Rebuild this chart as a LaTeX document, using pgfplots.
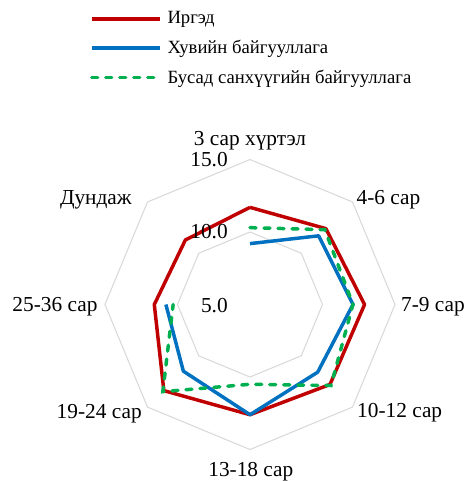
\documentclass[border=0pt]{standalone}
\usepackage{pgfplots}
\pgfplotsset{compat=1.18}
\usepackage{pgfplotstable}
\usepackage{fontspec}
\setmainfont{Liberation Serif}
\definecolor{cred}{RGB}{192,0,0}
\definecolor{cblue}{RGB}{0,112,192}
\definecolor{cgreen}{RGB}{0,176,80}
\definecolor{cgrid}{RGB}{217,217,217}

% i: 0=3 сар хүртэл, 1=4-6, 2=7-9, 3=10-12, 4=13-18, 5=19-24, 6=25-36, 7=Дундаж, 8=closing point
\pgfplotstableread{
i red blue green
0 11.7 9.2 10.3
1 12.4 11.7 12.3
2 12.9 12.1 12.1
3 12.8 11.6 12.9
4 12.6 12.6 10.5
5 13.4 11.5 13.5
6 11.6 10.8 10.3
7 11.3 nan nan
8 11.7 nan nan
}\datatable

\pgfplotstableread{
i ga gb
0 10 15
1 10 15
2 10 15
3 10 15
4 10 15
5 10 15
6 10 15
7 10 15
8 10 15
}\gridtable

\begin{document}
\begin{tikzpicture}
\begin{axis}[
  x=10.875pt, y=10.875pt,
  xmin=-17.24, xmax=14.83, ymin=-12.17, ymax=21.0,
  hide axis, clip=false,
  legend style={draw=none, fill=none, at={(axis cs:-11.05,20.35)}, anchor=north west,
    inner sep=0pt, row sep=7.8pt, font=\fontsize{14}{16}\selectfont,
    nodes={inner sep=1.5pt},
    /tikz/every odd column/.append style={column sep=3pt}},
  legend cell align=left,
  legend image code/.code={\draw[#1] (0pt,0pt) -- (51pt,0pt);},
]
\addplot[cgrid, line width=0.8pt, forget plot] table[
  x expr={(\thisrow{ga}-5)*cos(90-45*\thisrow{i})},
  y expr={(\thisrow{ga}-5)*sin(90-45*\thisrow{i})}] {\gridtable};
\addplot[cgrid, line width=0.8pt, forget plot] table[
  x expr={(\thisrow{gb}-5)*cos(90-45*\thisrow{i})},
  y expr={(\thisrow{gb}-5)*sin(90-45*\thisrow{i})}] {\gridtable};

\addplot[cred, line width=2.6pt, line join=round] table[
  x expr={(\thisrow{red}-5)*cos(90-45*\thisrow{i})},
  y expr={(\thisrow{red}-5)*sin(90-45*\thisrow{i})}] {\datatable};
\addlegendentry{Иргэд}
\addplot[cblue, line width=2.6pt, line join=round] table[
  x expr={(\thisrow{blue}-5)*cos(90-45*\thisrow{i})},
  y expr={(\thisrow{blue}-5)*sin(90-45*\thisrow{i})}] {\datatable};
\addlegendentry{Хувийн байгууллага}
\addplot[cgreen, line width=2.6pt, line cap=round, dash pattern=on 4.5pt off 6pt] table[
  x expr={(\thisrow{green}-5)*cos(90-45*\thisrow{i})},
  y expr={(\thisrow{green}-5)*sin(90-45*\thisrow{i})}] {\datatable};
\addlegendentry{Бусад санхүүгийн байгууллага}

\begin{scope}[every node/.style={font=\fontsize{16}{18}\selectfont, inner sep=0pt}]
\node[anchor=east] at (axis cs:-1.52,10) {15.0};
\node[anchor=east] at (axis cs:-1.52,5) {10.0};
\node[anchor=east] at (axis cs:-1.52,-0.1) {5.0};
\node at (axis cs:0,11.28) {3 сар хүртэл};
\node at (axis cs:9.55,7.21) {4-6 сар};
\node at (axis cs:12.62,-0.14) {7-9 сар};
\node at (axis cs:10.32,-7.48) {10-12 сар};
\node at (axis cs:0.06,-11.53) {13-18 сар};
\node at (axis cs:-10.4,-7.5) {19-24 сар};
\node at (axis cs:-13.45,-0.15) {25-36 сар};
\node at (axis cs:-10.63,7.21) {Дундаж};
\end{scope}
\coordinate (bl) at (rel axis cs:0,0);
\coordinate (tr) at (rel axis cs:1,1);
\end{axis}
\pgfresetboundingbox
\path (bl) rectangle (tr);
\end{tikzpicture}
\end{document}
